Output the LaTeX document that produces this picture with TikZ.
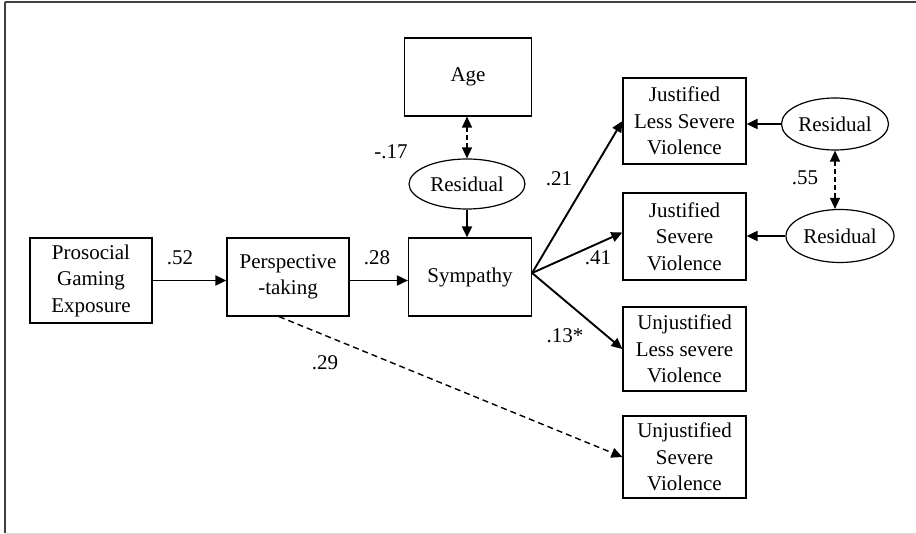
\documentclass[tikz,border=0pt]{standalone}
\usepackage{fontspec}
\setmainfont{Liberation Serif}
\usetikzlibrary{shapes.geometric,positioning,arrows.meta}

\begin{document}
\begin{tikzpicture}[x=1pt, y=-1pt,
        every node/.style={font=\fontsize{21}{26.5}\selectfont},
        var/.style={rectangle, draw=black, line width=1.2pt, align=center, inner sep=0pt, minimum width=123pt},
        resid/.style={ellipse, draw=black, line width=1.2pt, inner sep=0pt},
        path/.style={line width=1.9pt, -{Triangle[length=11pt, width=10pt]}},
        dpath/.style={line width=1.4pt, dash pattern=on 6pt off 4pt, -{Triangle[length=11pt, width=10pt]}},
        both/.style={line width=1.5pt, dash pattern=on 5pt off 3pt, {Triangle[length=11pt, width=10pt]}-{Triangle[length=11pt, width=10pt]}},
        coef/.style={inner sep=0pt}
    ]
        \useasboundingbox (0,0) rectangle (916,534);

        % Frame
        \draw[line width=1.2pt, black!75] (5,2) -- (916,2);
        \draw[line width=1.2pt, black!75] (5,2) -- (5,533);
        \draw[line width=0.8pt, black!15] (5,533) -- (916,533);

        % Variables
        \node[var, minimum width=122pt, minimum height=85pt] (pro) at (91,280.5) {Prosocial\\Gaming\\Exposure};
        \node[var, minimum width=122pt, minimum height=78pt] (per) at (288,277) {Perspective\\-taking};
        \node[var, minimum height=78pt] (sym) at (470,277) {Sympathy};
        \node[var, minimum width=127pt, minimum height=78pt] (age) at (468,77) {Age};
        \node[var, minimum height=86pt] (jls) at (684.5,121) {Justified\\Less Severe\\Violence};
        \node[var, minimum height=87pt] (js) at (684.5,236.5) {Justified\\Severe\\Violence};
        \node[var, minimum height=84pt] (uls) at (684.5,349) {Unjustified\\Less severe\\Violence};
        \node[var, minimum height=82pt] (us) at (684.5,457) {Unjustified\\Severe\\Violence};

        % Residuals
        \node[resid, minimum width=116pt, minimum height=50pt] (res1) at (467,184) {Residual};
        \node[resid, minimum width=107pt, minimum height=52pt] (res2) at (835,124) {Residual};
        \node[resid, minimum width=108pt, minimum height=53pt] (res3) at (840,236) {Residual};

        % Paths
        \coordinate (fan) at ([yshift=4pt]sym.east);
        \draw[path] (pro.east) -- (pro.east -| per.west);
        \draw[path] (pro.east -| per.east) -- (pro.east -| sym.west);
        \draw[path] (res1.south) -- (res1.south |- sym.north);
        \draw[path] (fan) -- (jls.west);
        \draw[path] (fan) -- ([yshift=4pt]js.west);
        \draw[path] (fan) -- (uls.west);
        \draw[dpath] ([xshift=-9pt]per.south) -- (us.west);
        \draw[path] (res2.west) -- (res2.west -| jls.east);
        \draw[path] (res3.west) -- (res3.west -| js.east);

        % Covariances
        \draw[both] (res1.north |- age.south) -- (res1.north);
        \draw[both] (res2.south) -- (res2.south |- res3.north);

        % Coefficients
        \node[coef] (c52) at (180,258) {.52};
        \node[coef] (c28) at (377,258) {.28};
        \node[coef] (c29) at (325,363) {.29};
        \node[coef] (c17) at (391,152) {-.17};
        \node[coef] (c21) at (559,179) {.21};
        \node[coef] (c41) at (598,258) {.41};
        \node[coef] (c13) at (565,336) {.13*};
        \node[coef] (c55) at (805,178) {.55};
    \end{tikzpicture}
\end{document}
